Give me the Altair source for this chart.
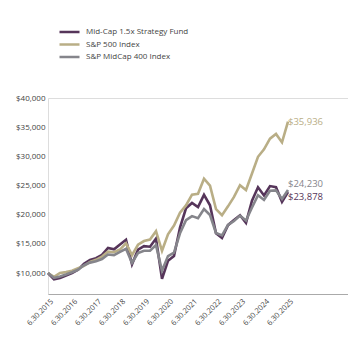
import altair as alt
import pandas as pd

quarters = list(range(41))
fund = [10000, 8900, 9150, 9550, 10000, 10550, 11600, 12250, 12550, 13100,
        14300, 14050, 14900, 15700, 11500, 14000, 14600, 14500, 15900, 9000,
        12100, 12900, 17800, 21100, 22000, 21300, 23400, 21600, 16800, 16000,
        18200, 19100, 19900, 18600, 22400, 24700, 23300, 24900, 24700, 22200, 23878]
sp500 = [10000, 9356, 10015, 10150, 10400, 10800, 11213, 11894, 12261, 12810,
         13661, 13557, 14022, 15103, 13061, 14844, 15482, 15745, 17173, 13807,
         16643, 18129, 20332, 21587, 23432, 23568, 26168, 24964, 20945, 19923,
         21429, 23036, 25049, 24230, 27062, 29920, 31200, 33038, 33834, 32390, 35936]
mid400 = [10000, 9150, 9388, 9743, 10132, 10551, 11334, 11781, 12013, 12400,
          13175, 13074, 13634, 14161, 11714, 13411, 13820, 13808, 14783, 10392,
          12894, 13509, 16801, 19064, 19758, 19410, 20963, 19940, 16865, 16450,
          18223, 18917, 19835, 19002, 21220, 23331, 22526, 24089, 24171, 22697, 24230]
series_names = ["Mid-Cap 1.5x Strategy Fund", "S&P 500 Index", "S&P MidCap 400 Index"]
colors = ["#56355a", "#b9ae86", "#85858b"]
tick_quarters = [0, 4, 8, 12, 16, 20, 24, 28, 32, 36, 40]
tick_labels = ["6.30.2015", "6.30.2016", "6.30.2017", "6.30.2018", "6.30.2019", "6.30.2020",
               "6.30.2021", "6.30.2022", "6.30.2023", "6.30.2024", "6.30.2025"]
y_ticks = [10000, 15000, 20000, 25000, 30000, 35000, 40000]

rows = []
for name, vals in zip(series_names, [fund, sp500, mid400]):
    for q, v in zip(quarters, vals):
        rows.append({"q": q, "value": v, "series": name})
df = pd.DataFrame(rows)

label_expr = "{" + ",".join(f"'{q}':'{l}'" for q, l in zip(tick_quarters, tick_labels)) + "}[datum.value]"

FONT = "Open Sans"
x_enc = alt.X("q:Q", scale=alt.Scale(domain=[0, 50], nice=False, zero=False),
              axis=alt.Axis(values=tick_quarters, labelExpr=label_expr, title=None,
                            grid=False, ticks=False, domainColor="#aaaaaa", domainWidth=1,
                            labelAngle=-45, labelAlign="right", labelBaseline="middle",
                            labelFont=FONT, labelFontSize=7.5, labelColor="#444444",
                            labelPadding=6, labelOffset=4, labelOverlap=False))
y_enc = alt.Y("value:Q", scale=alt.Scale(domain=[6400, 40000], nice=False, zero=False),
              axis=alt.Axis(values=y_ticks, format="$,.0f", title=None, grid=False,
                            ticks=False, domain=False, labelFont=FONT, labelFontSize=8,
                            labelColor="#444444", labelPadding=3, labelOverlap=False))
color_enc = alt.Color("series:N",
                      scale=alt.Scale(domain=series_names, range=colors),
                      legend=alt.Legend(title=None, orient="none", legendX=10, legendY=-71,
                                        symbolType="stroke", symbolStrokeWidth=2.5,
                                        symbolSize=400, clipHeight=10,
                                        labelFont=FONT, labelFontSize=8,
                                        labelColor="#444444", rowPadding=2.5,
                                        labelOffset=5))

base = alt.Chart(df)
layers = []
for name in series_names:
    layers.append(base.transform_filter(alt.datum.series == name)
                  .mark_line(strokeWidth=2.6, strokeJoin="miter")
                  .encode(x=x_enc, y=y_enc, color=color_enc))

last = df[df.q == 40]
dys = {"S&P 500 Index": 0, "S&P MidCap 400 Index": -6, "Mid-Cap 1.5x Strategy Fund": 5}
for name, col in zip(series_names, colors):
    layers.append(alt.Chart(last[last.series == name])
                  .mark_text(align="left", dx=0, dy=dys[name], font=FONT, fontSize=9.5,
                             color=col)
                  .encode(x=x_enc, y=y_enc,
                          text=alt.Text("value:Q", format="$,.0f")))

chart = alt.layer(*layers).properties(
    width=300, height=196,
    autosize=alt.AutoSizeParams(type="none"),
    padding={"left": 48, "top": 98, "right": 0, "bottom": 46},
).configure_view(stroke=None).configure_axis(labelOverlap=False).configure(background="white")

chart.save("out.html", embed_options={"renderer": "svg", "actions": False})
